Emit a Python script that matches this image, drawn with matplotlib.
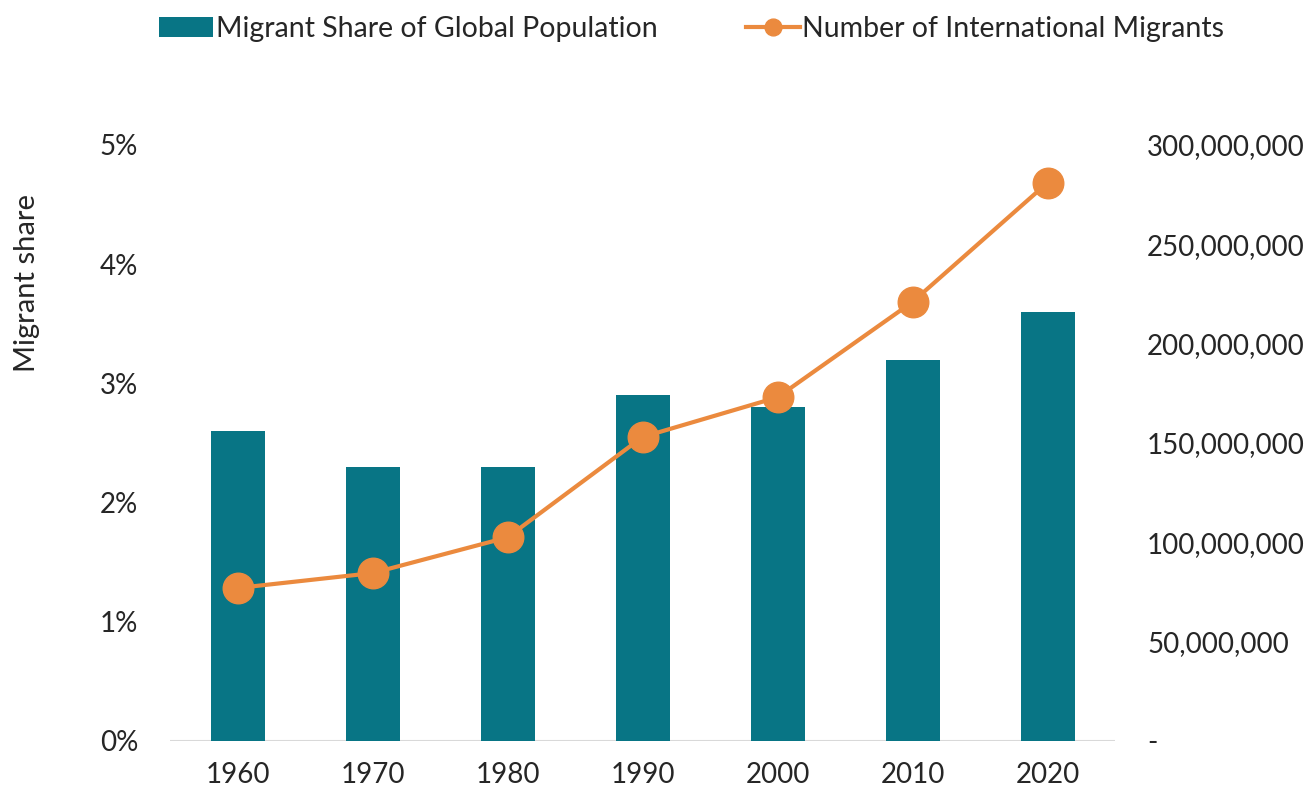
import matplotlib; matplotlib.use("Agg")
import matplotlib.pyplot as plt
from matplotlib.ticker import FuncFormatter

plt.rcParams["font.family"] = ["Lato", "DejaVu Sans"]

years = ["1960", "1970", "1980", "1990", "2000", "2010", "2020"]
share_pct = [2.6, 2.3, 2.3, 2.9, 2.8, 3.2, 3.6]   # migrant share of world pop, %
migrants = [77e6, 84.5e6, 102.5e6, 153e6, 173e6, 221e6, 281e6]

TEAL = "#087585"; ORANGE = "#EB8A3E"; TXT = "#262626"

fig = plt.figure(figsize=(13.14, 7.93), dpi=100)
ax = fig.add_axes([0.1294, 0.0656, 0.7192, 0.7516])
x = range(len(years))
bars = ax.bar(x, share_pct, width=0.4, color=TEAL, label="Migrant Share of Global Population", zorder=2)
ax.set_xlim(-0.5, 6.5); ax.set_ylim(0, 5)
ax.set_yticks([0, 1, 2, 3, 4, 5])
ax.yaxis.set_major_formatter(FuncFormatter(lambda v, p: f"{v:.0f}%"))
ax.set_xticks(list(x)); ax.set_xticklabels(years)
fig.text(27/1314, 1 - 283/793, "Migrant share", rotation=90, ha="center", va="center",
         fontsize=21, color=TXT)

ax2 = ax.twinx()
line, = ax2.plot(x, migrants, "o-", color=ORANGE, lw=3, ms=22, label="Number of International Migrants", zorder=3)
ax2.set_ylim(0, 300e6)
ax2.set_yticks(range(0, 300_000_001, 50_000_000))
ax2.yaxis.set_major_formatter(FuncFormatter(lambda v, p: "-" if v == 0 else f"{v:,.0f}"))

for a in (ax, ax2):
    for s in a.spines.values(): s.set_visible(False)
    a.tick_params(length=0, labelsize=20, labelcolor=TXT)
ax.tick_params(axis="y", pad=23); ax.tick_params(axis="x", pad=15)
ax2.tick_params(axis="y", pad=23)
ax.axhline(0, color="#d9d9d9", lw=1.5, zorder=1)

fig.legend(handles=[bars, line], loc="upper left", bbox_to_anchor=(0.112, 0.994), ncol=2,
           frameon=False, fontsize=20.5, columnspacing=3.1, handlelength=1.9, handletextpad=0.1,
           labelcolor=TXT, markerscale=0.55, borderaxespad=0)
fig.savefig("out.png", dpi=100)
